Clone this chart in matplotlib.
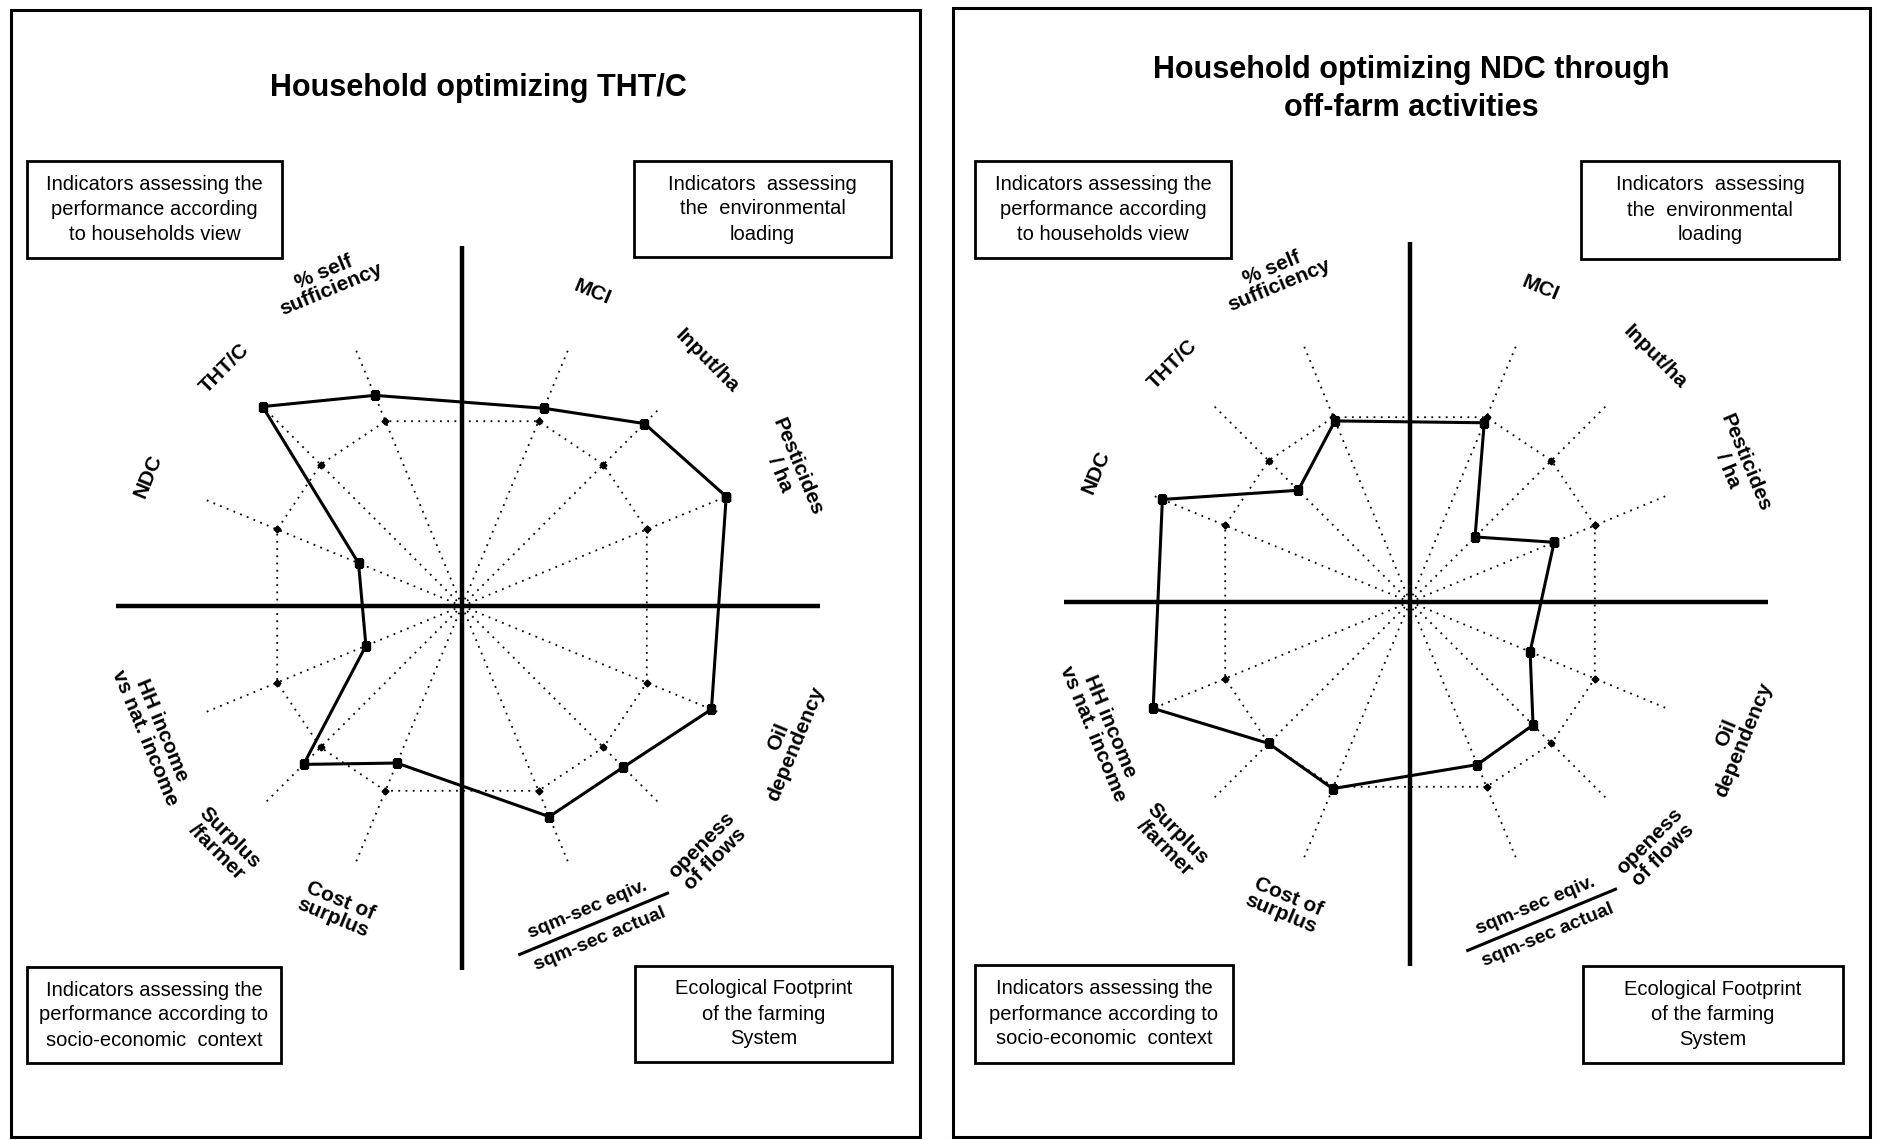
import matplotlib
matplotlib.use("Agg")
import matplotlib.pyplot as plt
import numpy as np
from matplotlib.patches import Rectangle

plt.rcParams["font.family"] = ["Liberation Sans", "DejaVu Sans"]

# Indicators, counter-clockwise starting just above the right-hand axis
indicators = [
    "Pesticides\n/ ha",
    "Input/ha",
    "MCI",
    "% self\nsufficiency",
    "THT/C",
    "NDC",
    "HH income\nvs nat. income",
    "Surplus\n/farmer",
    "Cost of\nsurplus",
    None,  # sqm-sec ratio, drawn as a fraction
    "openess\nof flows",
    "Oil\ndependency",
]
fraction_top = "sqm-sec eqiv."
fraction_bottom = "sqm-sec actual"

# Household profiles (relative to the reference = 1)
tht_c_values = [1.43, 1.29, 1.07, 1.14, 1.41, 0.56, 0.52, 1.12, 0.85, 1.14, 1.14, 1.35]
ndc_values = [0.78, 0.46, 0.97, 0.98, 0.79, 1.34, 1.39, 1.00, 1.01, 0.88, 0.87, 0.65]
reference_values = [1.0, 1.0, 1.0, 1.0, 1.0, 1.0, 1.0, 1.0, 1.0, 1.0, 1.0, 1.0]

titles = ["Household optimizing THT/C", "Household optimizing NDC through\noff-farm activities"]
box_texts = [
    "Indicators assessing the\nperformance according\nto households view",
    "Indicators  assessing\nthe  environmental\nloading",
    "Indicators assessing the\nperformance according to\nsocio-economic  context",
    "Ecological Footprint\nof the farming\nSystem",
]

W, H = 1878, 1140
PX_PER_UNIT = 200
RMAX = 1.9
SPOKE_LEN = 1.39
DOT = (0, (1, 3))
# how far out each indicator name sits (same order as indicators)
label_radius = [1.77, 1.73, 1.70, 1.76, 1.68, 1.70, 1.67, 1.69, 1.64, 1.72, 1.74, 1.76]

fig = plt.figure(figsize=(W / 100, H / 100), dpi=100)


def add_box(x0, y0, x1, y1, lw=2.0):
    fig.add_artist(Rectangle((x0 / W, 1 - y1 / H), (x1 - x0) / W, (y1 - y0) / H,
                             transform=fig.transFigure, fill=False, lw=lw, ec="black"))


def draw_panel(values, title, title_xy, center, frame, boxes):
    cx, cy = center
    add_box(*frame, lw=2.2)
    fig.text(title_xy[0] / W, 1 - title_xy[1] / H, title, ha="center", va="center",
             fontsize=22, fontweight="bold", linespacing=1.35)
    for (bx0, by0, bx1, by1), txt in zip(boxes, box_texts):
        add_box(bx0, by0, bx1, by1)
        fig.text((bx0 + bx1) / 2 / W, 1 - (by0 + by1) / 2 / H, txt, ha="center", va="center",
                 fontsize=14.5, linespacing=1.4)

    half = RMAX * PX_PER_UNIT
    ax = fig.add_axes([(cx - half) / W, (H - cy - half) / H, 2 * half / W, 2 * half / H],
                      projection="polar")
    ax.set_ylim(0, RMAX)
    ax.set_axis_off()

    degs = [k * 22.5 for k in range(16) if k % 4 != 0]
    theta = np.deg2rad(degs)

    # dotted spokes
    for t in theta:
        ax.plot([t, t], [0, SPOKE_LEN], color="black", lw=1.3, ls=DOT)
    # thick quadrant axes
    for t, length in zip(np.deg2rad([0, 90, 180, 270]), [1.79, 1.80, 1.73, 1.82]):
        ax.plot([t, t], [0, length], color="black", lw=3.2, solid_capstyle="butt")

    th_closed = np.append(theta, theta[0])
    ref_closed = np.append(reference_values, reference_values[0])
    ax.plot(th_closed, ref_closed, color="black", lw=1.3, ls=DOT, marker="D", ms=3.5)
    val_closed = np.append(values, values[0])
    ax.plot(th_closed, val_closed, color="black", lw=2.2, marker="s", ms=5.5)

    for t, d, lab, lr in zip(theta, degs, indicators, label_radius):
        rot = d - 90 if d < 180 else d - 270
        if lab is None:
            # fraction label
            ax.text(t, lr - 0.075, fraction_top, rotation=rot, rotation_mode="anchor",
                    ha="center", va="center", fontsize=14, fontweight="bold")
            ax.text(t, lr + 0.085, fraction_bottom, rotation=rot, rotation_mode="anchor",
                    ha="center", va="center", fontsize=14, fontweight="bold")
            delta = np.arctan(0.40 / lr)
            r_end = lr / np.cos(delta)
            ax.plot([t - delta, t + delta], [r_end, r_end], color="black", lw=2.2, clip_on=False)
            continue
        ax.text(t, lr, lab, rotation=rot, rotation_mode="anchor", ha="center", va="center",
                fontsize=15, fontweight="bold", multialignment="center", linespacing=1.0)
    return ax


draw_panel(tht_c_values, titles[0], (478, 88), (462, 606), (11, 10, 920, 1137),
           [(27, 161, 282, 258), (634, 161, 891, 257), (27, 967, 281, 1063), (635, 966, 892, 1062)])
draw_panel(ndc_values, titles[1], (1411, 89), (1410, 602), (953, 8, 1870, 1137),
           [(975, 161, 1231, 258), (1581, 161, 1839, 259), (975, 965, 1233, 1063), (1583, 966, 1843, 1063)])

fig.savefig("out.png", dpi=100, facecolor="white")
